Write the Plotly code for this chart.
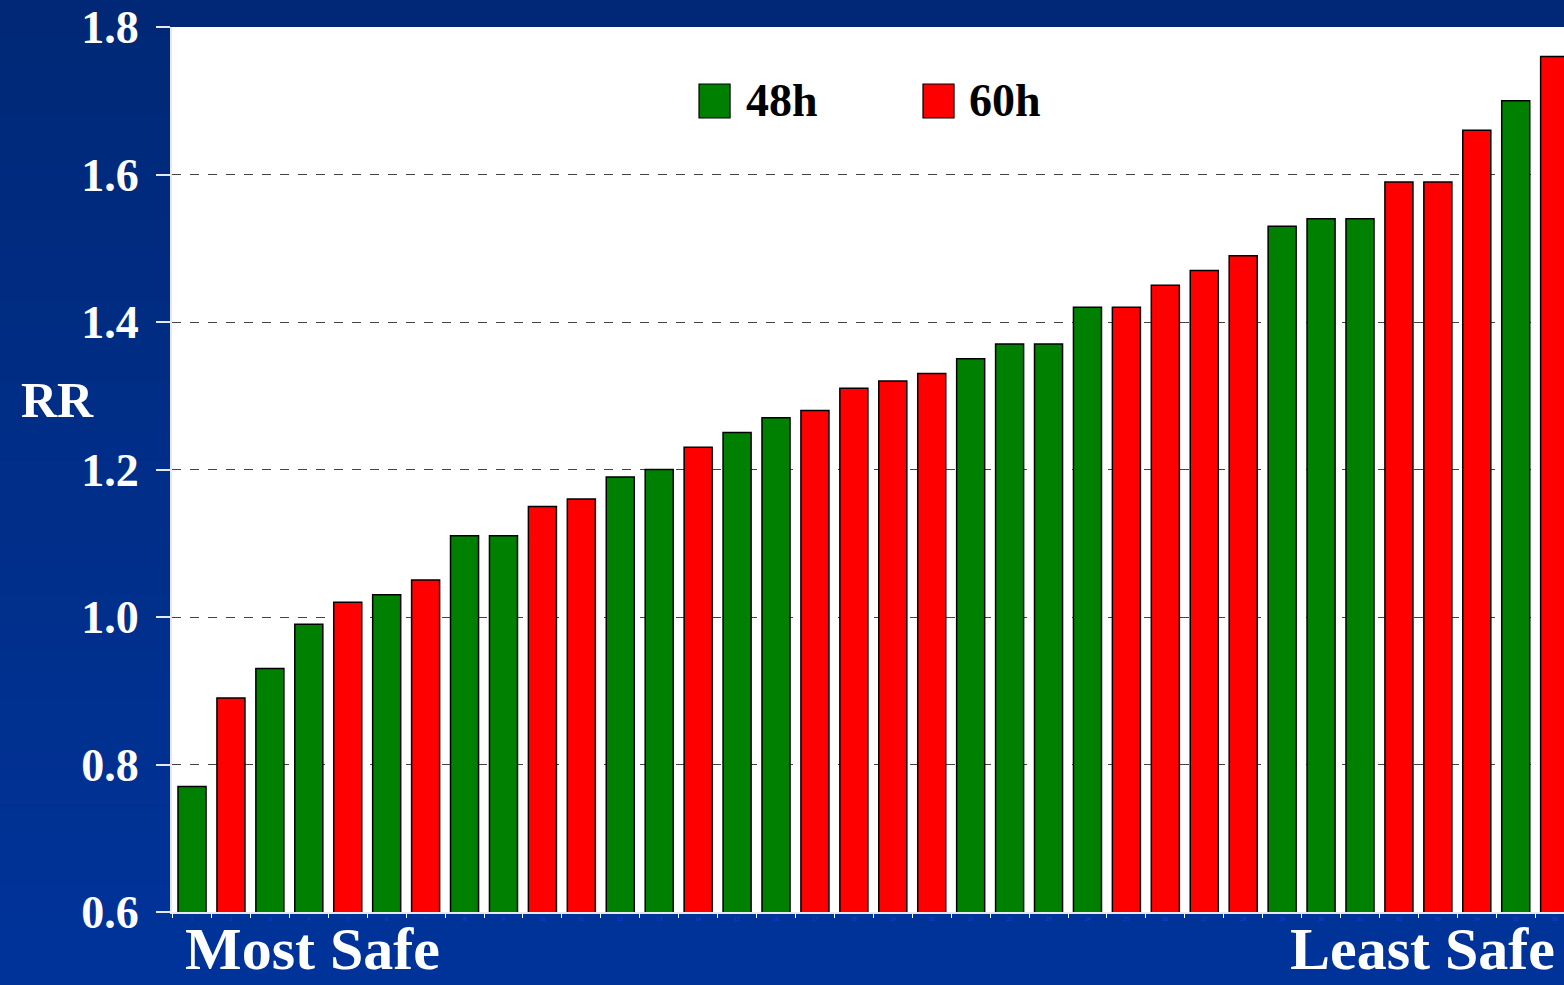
import plotly.graph_objects as go

# RR per regimen, sorted from most safe to least safe
rr = [0.77, 0.89, 0.93, 0.99, 1.02, 1.03, 1.05, 1.11, 1.11, 1.15, 1.16, 1.19,
      1.20, 1.23, 1.25, 1.27, 1.28, 1.31, 1.32, 1.33, 1.35, 1.37, 1.37, 1.42,
      1.42, 1.45, 1.47, 1.49, 1.53, 1.54, 1.54, 1.59, 1.59, 1.66, 1.70, 1.76]
group = ["48h", "60h", "48h", "48h", "60h", "48h", "60h", "48h", "48h", "60h",
         "60h", "48h", "48h", "60h", "48h", "48h", "60h", "60h", "60h", "60h",
         "48h", "48h", "48h", "48h", "60h", "60h", "60h", "60h", "48h", "48h",
         "48h", "60h", "60h", "60h", "48h", "60h"]
labels = [str(i + 1) for i in range(len(rr))]
colors = {"48h": "#008000", "60h": "#ff0000"}

FONT = "Liberation Serif, Times New Roman, serif"

fig = go.Figure()
for g in ["48h", "60h"]:
    xs = [labels[i] for i in range(len(rr)) if group[i] == g]
    ys = [rr[i] for i in range(len(rr)) if group[i] == g]
    fig.add_trace(go.Bar(
        x=xs, y=ys, name=g, width=0.72, showlegend=False,
        marker=dict(color=colors[g], line=dict(color="black", width=1.5)),
    ))

# gradient background strips
shapes = []
n = 40
top = (0, 40, 118)
bot = (0, 52, 156)
for k in range(n):
    t = k / (n - 1)
    c = tuple(round(top[j] + (bot[j] - top[j]) * t) for j in range(3))
    shapes.append(dict(type="rect", xref="paper", yref="paper", layer="below",
                       x0=-0.2, x1=1.1, y0=1.05 - (k + 1) * 1.2 / n, y1=1.05 - k * 1.2 / n,
                       fillcolor="rgb(%d,%d,%d)" % c, line=dict(width=0)))
shapes.append(dict(type="rect", xref="x domain", yref="y domain", layer="below",
                   x0=0, x1=1, y0=0, y1=1, fillcolor="white", line=dict(width=0)))

# legend
legend_items = [("48h", 0.3786, 0.4106), ("60h", 0.5395, 0.5711)]
annotations = []
for name, sx, tx in legend_items:
    shapes.append(dict(type="rect", xref="paper", yref="paper",
                       x0=sx, x1=sx + 0.0223, y0=0.8972, y1=0.9356,
                       fillcolor=colors[name], line=dict(color="black", width=1.2)))
    annotations.append(dict(text=name, xref="paper", yref="paper", x=tx, y=0.9164,
                            xanchor="left", yanchor="middle", showarrow=False,
                            font=dict(family=FONT, size=46, color="black", weight="bold")))

annotations += [
    dict(text="RR", xref="paper", yref="paper", x=-0.0826, y=0.5785,
         xanchor="center", yanchor="middle", showarrow=False,
         font=dict(family=FONT, size=50, color="white", weight="bold")),
    dict(text="Most Safe", xref="paper", yref="paper", x=0.0079, y=-0.0415,
         xanchor="left", yanchor="middle", showarrow=False,
         font=dict(family=FONT, size=60, color="white", weight="bold")),
    dict(text="Least Safe", xref="paper", yref="paper", x=0.995, y=-0.0415,
         xanchor="right", yanchor="middle", showarrow=False,
         font=dict(family=FONT, size=60, color="white", weight="bold")),
]

fig.update_layout(
    width=1564, height=985,
    margin=dict(l=172, r=0, t=27, b=73),
    barmode="overlay",
    paper_bgcolor="#002f8c",
    plot_bgcolor="white",
    shapes=shapes,
    annotations=annotations,
)
fig.update_xaxes(
    type="category", categoryorder="array", categoryarray=labels,
    range=[-0.514, 35.24],
    showgrid=False, ticks="outside", ticklen=4, tickcolor="white", tickson="boundaries",
    tickfont=dict(family=FONT, size=6, color="#1a40e0"),
    showline=True, linecolor="#e8e8f0", linewidth=2,
)
fig.update_yaxes(
    range=[0.6, 1.8], dtick=0.2, tickformat=".1f",
    showgrid=True, gridcolor="#444444", griddash="dash", gridwidth=1,
    ticks="outside", ticklen=14, tickcolor="#e8e8f0", tickwidth=2,
    ticklabelstandoff=8,
    tickfont=dict(family=FONT, size=46, color="white", weight="bold"),
    showline=True, linecolor="#e8e8f0", linewidth=2, zeroline=False,
)

fig.write_html("out.html", config={"displayModeBar": False},
               post_script="document.body.style.margin='0';")
